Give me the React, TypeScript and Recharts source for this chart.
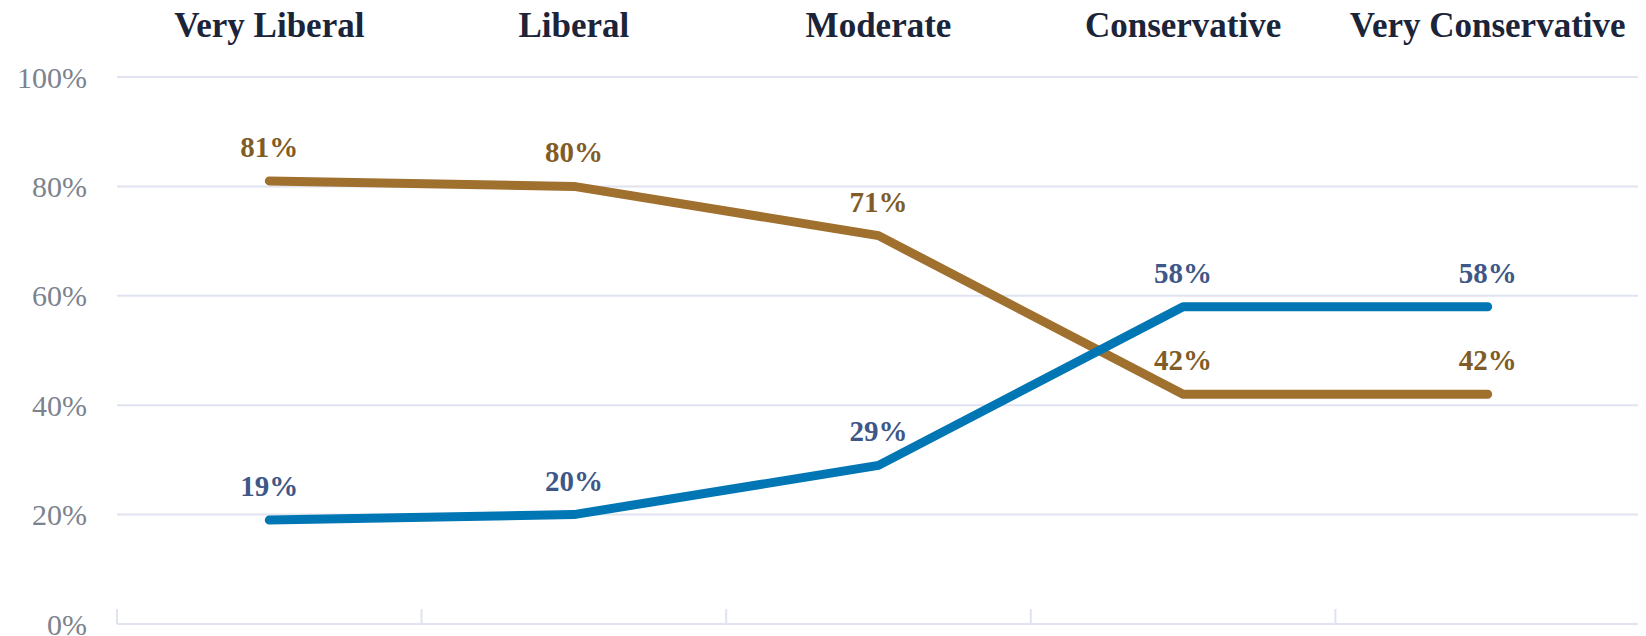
import React from "react";
import { LineChart, Line, XAxis, YAxis, CartesianGrid, LabelList } from "recharts";

const categories = ["Very Liberal", "Liberal", "Moderate", "Conservative", "Very Conservative"];
const goldValues = [81, 80, 71, 42, 42];
const blueValues = [19, 20, 29, 58, 58];
const yTicks = [0, 20, 40, 60, 80, 100];

const data = categories.map((category, i) => ({
  category,
  gold: goldValues[i],
  blue: blueValues[i],
}));

const FONT = "'Liberation Serif', 'Times New Roman', serif";
const GRID = "#dfe4f0";
const pct = (v: any) => `${v}%`;

const CategoryTick = ({ x, y, payload }: any) => (
  <text x={x} y={y} textAnchor="middle" fill="#1b2438" fontSize={35} fontWeight={700} fontFamily={FONT}>
    {payload.value}
  </text>
);

// small upward marks at the band edges of the bottom axis
const BoundaryTick = ({ x, y, payload, visibleTicksCount }: any) => {
  const half = payload.offset || 0;
  const last = payload.index === visibleTicksCount - 1;
  return (
    <g>
      <line x1={x - half} x2={x - half} y1={y} y2={y - 15} stroke={GRID} strokeWidth={2} />
      {last && <line x1={x + half} x2={x + half} y1={y} y2={y - 15} stroke={GRID} strokeWidth={2} />}
    </g>
  );
};

export default function App() {
  return (
    <div style={{ width: 1638, height: 628, fontFamily: FONT }}>
      <LineChart width={1638} height={628} data={data} margin={{ top: 0, right: 6, bottom: 0, left: 0 }}>
        <CartesianGrid xAxisId="cat" vertical={false} stroke={GRID} strokeWidth={2} />
        <XAxis
          xAxisId="cat"
          dataKey="category"
          orientation="top"
          scale="band"
          height={69}
          axisLine={false}
          tickLine={false}
          tickSize={0}
          tickMargin={40}
          tick={<CategoryTick />}
          interval={0}
        />
        <XAxis
          xAxisId="base"
          dataKey="category"
          orientation="bottom"
          scale="band"
          height={12}
          interval={0}
          tickSize={0}
          tickMargin={0}
          tickLine={false}
          tick={<BoundaryTick />}
          axisLine={{ stroke: GRID, strokeWidth: 2 }}
        />
        <YAxis
          domain={[0, 100]}
          ticks={yTicks}
          interval={0}
          tickFormatter={pct}
          width={109}
          axisLine={false}
          tickLine={false}
          tickSize={0}
          tickMargin={30}
          tick={{ fill: "#7c838e", fontSize: 30, fontFamily: FONT }}
        />
        <Line
          xAxisId="cat"
          dataKey="gold"
          type="linear"
          stroke="#a0702f"
          strokeWidth={9}
          strokeLinecap="round"
          strokeLinejoin="round"
          dot={false}
          activeDot={false}
          isAnimationActive={false}
        >
          <LabelList dataKey="gold" position="top" offset={24} formatter={pct} fill="#805c26" fontSize={29} fontWeight={700} fontFamily={FONT} />
        </Line>
        <Line
          xAxisId="cat"
          dataKey="blue"
          type="linear"
          stroke="#0077b4"
          strokeWidth={9}
          strokeLinecap="round"
          strokeLinejoin="round"
          dot={false}
          activeDot={false}
          isAnimationActive={false}
        >
          <LabelList dataKey="blue" position="top" offset={24} formatter={pct} fill="#3e5787" fontSize={29} fontWeight={700} fontFamily={FONT} />
        </Line>
      </LineChart>
    </div>
  );
}
